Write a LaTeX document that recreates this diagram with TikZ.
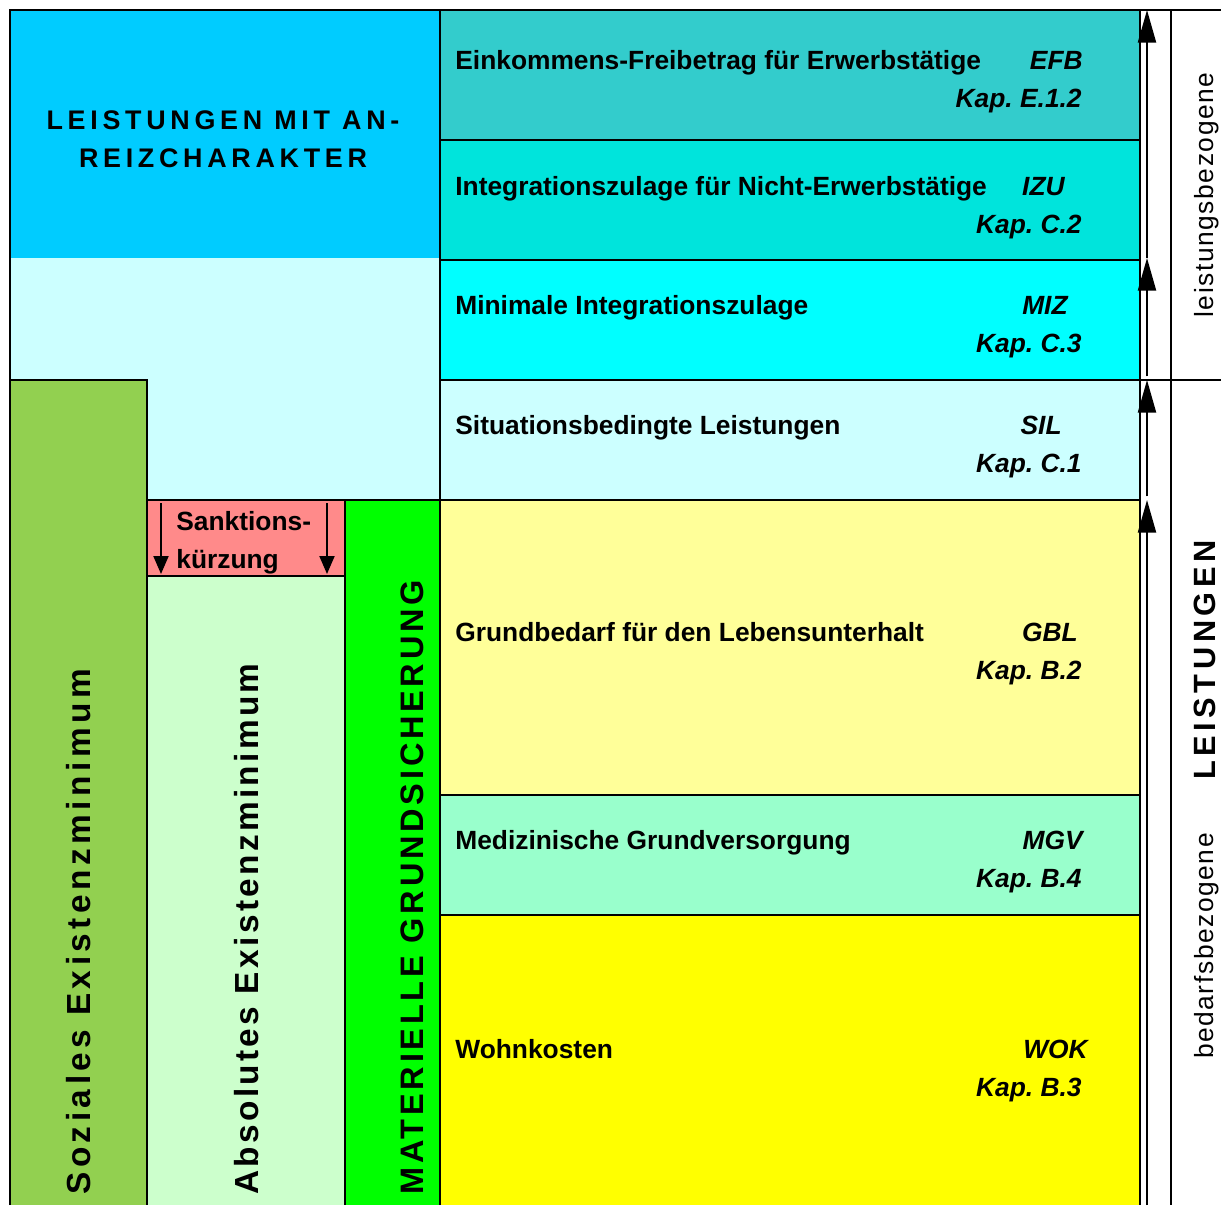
\documentclass[tikz,border=0pt]{standalone}
\usepackage{fontspec}
\setmainfont{Liberation Sans}
\usetikzlibrary{arrows.meta}
\frenchspacing
\definecolor{anreizc}{HTML}{00CCFF}
\definecolor{hellc}{HTML}{CCFFFF}
\definecolor{efbc}{HTML}{33CCCC}
\definecolor{izuc}{RGB}{0,228,220}
\definecolor{mizc}{HTML}{00FFFF}
\definecolor{silc}{HTML}{CCFFFF}
\definecolor{gblc}{HTML}{FFFF99}
\definecolor{mgvc}{HTML}{99FFCC}
\definecolor{wokc}{HTML}{FFFF00}
\definecolor{sozc}{HTML}{92D050}
\definecolor{absc}{HTML}{CCFFCC}
\definecolor{matc}{HTML}{00FF00}
\definecolor{sankc}{RGB}{255,138,138}
\newcommand\zeilefont{\bfseries\fontsize{15}{18}\selectfont}
\tikzset{
  rahmen/.style={line width=1.3pt},
  zeile/.style={inner sep=0pt,anchor=base west,font=\zeilefont},
  kuerzel/.style={inner sep=0pt,anchor=base east,font=\zeilefont\itshape},
  senkrecht/.style={inner sep=0pt,rotate=90,anchor=base west},
  sperrtext/.style={inner sep=0pt,anchor=base,font=\addfontfeatures{LetterSpace=17.5}\bfseries\fontsize{15.3}{18}\selectfont},
  seite/.style={inner sep=0pt,rotate=90,anchor=base,font=\addfontfeatures{LetterSpace=6}\fontsize{15}{18}\selectfont},
  pfeil/.style={line width=1.1pt,-{Triangle[length=6.5mm,width=3.6mm]}},
  kpfeil/.style={line width=1.1pt,-{Triangle[length=3.6mm,width=3mm]}}
}

\begin{document}
\begin{tikzpicture}[x=0.02cm,y=-0.02cm]
\path[use as bounding box,fill=white] (0,0) rectangle (1221,1205);
% linke Seite
\fill[hellc] (10,10) rectangle (440,500);
\fill[anreizc] (10,10) rectangle (440,258);
\fill[sozc] (10,380) rectangle (147,1205);
\fill[sankc] (147,500) rectangle (345,576);
\fill[absc] (147,576) rectangle (345,1205);
\fill[matc] (345,500) rectangle (440,1205);
% Leistungen rechts
\foreach \n/\ya/\yb/\col/\txt/\abb/\xa/\kap/\yt in {
  efb/10/140/efbc/Einkommens-Freibetrag für Erwerbstätige/EFB/1083/Kap. E.1.2/69,
  izu/140/260/izuc/Integrationszulage für Nicht-Erwerbstätige/IZU/1065/Kap. C.2/195,
  miz/260/380/mizc/Minimale Integrationszulage/MIZ/1068/Kap. C.3/314,
  sil/380/500/silc/Situationsbedingte Leistungen/SIL/1062/Kap. C.1/434,
  gbl/500/795/gblc/Grundbedarf für den Lebensunterhalt/GBL/1078/Kap. B.2/641,
  mgv/795/915/mgvc/Medizinische Grundversorgung/MGV/1083/Kap. B.4/849,
  wok/915/1205/wokc/Wohnkosten/WOK/1088/Kap. B.3/1058}{
  \fill[\col] (440,\ya) rectangle (1140,\yb);
  \draw[rahmen] (440,\ya) -- (1140,\ya);
  \node[zeile] (\n-txt) at (455,\yt) {\txt};
  \node[kuerzel] (\n-abb) at (\xa,\yt) {\abb};
  \node[kuerzel] (\n-kap) at (1082,\yt+38) {\kap};
}
% Linien
\draw[rahmen] (10,1205) -- (10,10) -- (1221,10);
\draw[rahmen] (440,10) -- (440,1205) (1140,10) -- (1140,1205) (1171,10) -- (1171,1205);
\draw[rahmen] (10,380) -- (147,380) -- (147,1205) (147,500) -- (440,500) (147,576) -- (345,576) (345,500) -- (345,1205);
\draw[rahmen] (1140,380) -- (1221,380);
% Pfeile
\coordinate (p0) at (1147,10);
\coordinate (p1) at (1147,258);
\coordinate (p2) at (1147,380);
\coordinate (p3) at (1147,500);
\coordinate (p4) at (1147,1205);
\draw[pfeil] (p1) -- (p0);
\draw[pfeil,shorten <=2pt] (p2) -- (p1);
\draw[pfeil,shorten <=2pt] (p3) -- (p2);
\draw[pfeil] (p4) -- (p3);
\coordinate (s1o) at (161,503);
\coordinate (s1u) at (161,574);
\coordinate (s2o) at (327,503);
\coordinate (s2u) at (327,574);
\draw[kpfeil] (s1o) -- (s1u);
\draw[kpfeil] (s2o) -- (s2u);
% Texte
\node[sperrtext] (anreiz1) at (223,129) {LEISTUNGEN MIT AN-};
\node[sperrtext] (anreiz2) at (223,167) {REIZCHARAKTER};
\node[zeile] (sank1) at (176,530) {Sanktions-};
\node[zeile] (sank2) at (176,568) {kürzung};
\node[senkrecht,font=\addfontfeatures{LetterSpace=13.5}\bfseries\fontsize{19}{22}\selectfont] (sozial) at (90,1195) {Soziales Existenzminimum};
\node[senkrecht,font=\addfontfeatures{LetterSpace=10}\bfseries\fontsize{19}{22}\selectfont] (absolut) at (258,1195) {Absolutes Existenzminimum};
\node[senkrecht,font=\addfontfeatures{LetterSpace=11.5}\bfseries\fontsize{18.5}{22}\selectfont] (materiell) at (423,1195) {MATERIELLE GRUNDSICHERUNG};
\node[seite] (leistbez) at (1213,195) {leistungsbezogene};
\node[seite] (bedarfbez) at (1213,946) {bedarfsbezogene};
\node[seite,font=\addfontfeatures{LetterSpace=15}\bfseries\fontsize{17.5}{20}\selectfont] (leistungen) at (1215,660) {LEISTUNGEN};
\end{tikzpicture}
\end{document}
